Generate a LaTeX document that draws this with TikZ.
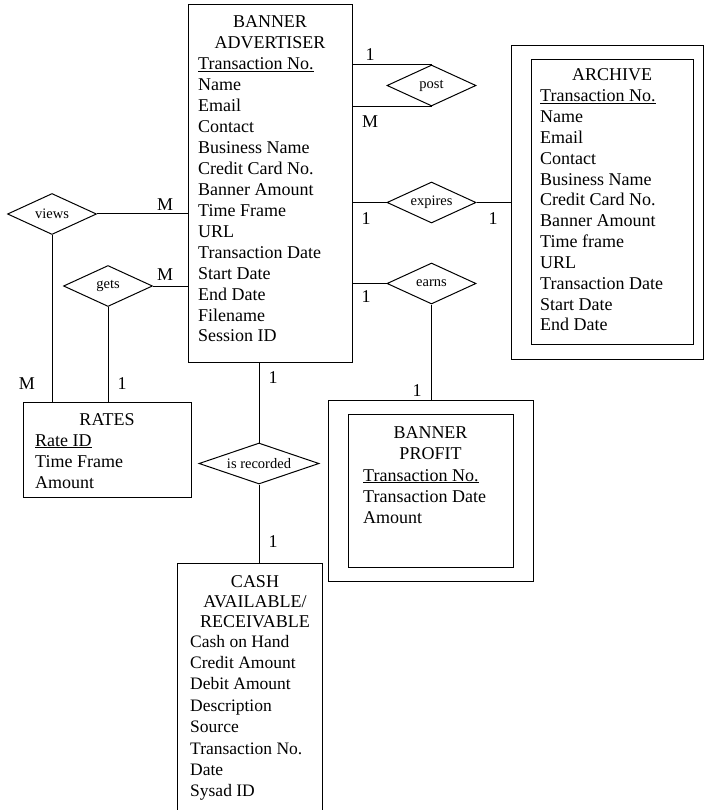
\documentclass[tikz,border=0pt]{standalone}
\usepackage{fontspec}
\setmainfont{Liberation Serif}
\usetikzlibrary{shapes.geometric}
\begin{document}
\begin{tikzpicture}[x=1pt,y=-1pt,
  box/.style={draw, line width=1pt, inner sep=0pt},
  rel/.style={diamond, draw, line width=1pt, inner sep=0pt, aspect=2.2,
    minimum width=89pt, minimum height=41pt, font=\fontsize{14.5}{16}\selectfont},
  attr/.style={anchor=base west, inner sep=0pt, font=\fontsize{18}{21}\selectfont},
  ttl/.style={anchor=base, inner sep=0pt, font=\fontsize{18}{21}\selectfont},
  card/.style={anchor=base, inner sep=0pt, font=\fontsize{18}{21}\selectfont},
  link/.style={line width=1pt}]
\useasboundingbox (0,0) rectangle (705,810);
\clip (0,0) rectangle (705,810);

% ---- BANNER ADVERTISER ----
\node[box, minimum width=164pt, minimum height=357pt] (ba) at (270,183.5) {};
\node[ttl] (ba-t1) at (270,28) {BANNER};
\node[ttl] (ba-t2) at (270,49) {ADVERTISER};
\foreach \a [count=\i] in {\underline{Transaction No.}, Name, Email, Contact,
    Business Name, Credit Card No., Banner Amount, Time Frame, URL,
    Transaction Date, Start Date, End Date, Filename, Session ID}
  \node[attr] (ba-a\i) at (198,{70+20.92*(\i-1)}) {\a};

% ---- ARCHIVE (weak entity, double box) ----
\node[box, minimum width=192pt, minimum height=313pt] (arch) at (607,202.5) {};
\node[box, minimum width=162pt, minimum height=284pt] (arch-in) at (612,202) {};
\node[ttl] (arch-t) at (612,81) {ARCHIVE};
\foreach \a [count=\i] in {\underline{Transaction No.}, Name, Email, Contact,
    Business Name, Credit Card No., Banner Amount, Time frame, URL,
    Transaction Date, Start Date, End Date}
  \node[attr] (arch-a\i) at (540,{102+20.8*(\i-1)}) {\a};

% ---- BANNER PROFIT (weak entity, double box) ----
\node[box, minimum width=205pt, minimum height=181pt] (bp) at (430.5,490.5) {};
\node[box, minimum width=165pt, minimum height=153pt] (bp-in) at (430.5,490.5) {};
\node[ttl] (bp-t1) at (430.5,438) {BANNER};
\node[ttl] (bp-t2) at (430.5,459) {PROFIT};
\foreach \a [count=\i] in {\underline{Transaction No.}, Transaction Date, Amount}
  \node[attr] (bp-a\i) at (363,{481+21*(\i-1)}) {\a};

% ---- RATES ----
\node[box, minimum width=168pt, minimum height=95pt] (rates) at (107,449.5) {};
\node[ttl] (rates-t) at (107,425) {RATES};
\foreach \a [count=\i] in {\underline{Rate ID}, Time Frame, Amount}
  \node[attr] (rates-a\i) at (35,{446+21*(\i-1)}) {\a};

% ---- CASH AVAILABLE / RECEIVABLE (runs past the lower edge) ----
\node[box, minimum width=145pt, minimum height=262pt] (cash) at (249.5,694) {};
\node[ttl] (cash-t1) at (255,587) {CASH};
\node[ttl] (cash-t2) at (255,607) {AVAILABLE/};
\node[ttl] (cash-t3) at (255,627) {RECEIVABLE};
\foreach \a [count=\i] in {Cash on Hand, Credit Amount, Debit Amount,
    Description, Source, Transaction No., Date, Sysad ID}
  \node[attr, font=\fontsize{17.5}{21}\selectfont] (cash-a\i) at (190,{647+21.4*(\i-1)}) {\a};

% ---- relationships ----
\node[rel] (post)  at (431.5,85.5)  {post};
\node[rel] (exp)   at (431.5,202.5) {expires};
\node[rel] (earns) at (431.5,283.5) {earns};
\node[rel] (views) at (52,214)      {views};
\node[rel] (gets)  at (108,286)     {gets};
\node[rel, minimum width=120pt] (rec) at (259,463.5) {is recorded};

% ---- connectors ----
\draw[link] (post.north -| ba.east) -- (post.north);
\draw[link] (post.south -| ba.east) -- (post.south);
\draw[link] (exp.west -| ba.east) -- (exp.west);
\draw[link] (exp.east) -- (exp.east -| arch.west);
\draw[link] (earns.west -| ba.east) -- (earns.west);
\draw[link] (earns.south) -- (earns.south |- bp.north);
\draw[link] (views.east) -- (views.east -| ba.west);
\draw[link] (views.south) -- (views.south |- rates.north);
\draw[link] (gets.east) -- (gets.east -| ba.west);
\draw[link] (gets.south) -- (gets.south |- rates.north);
\draw[link] (rec.north |- ba.south) -- (rec.north);
\draw[link] (rec.south) -- (rec.south |- cash.north);

% ---- cardinalities ----
\node[card] (c-post1)  at (370,61)  {1};
\node[card] (c-postM)  at (370,128) {M};
\node[card] (c-exp1)   at (366,225) {1};
\node[card] (c-exp2)   at (493,225) {1};
\node[card] (c-earns1) at (366,302) {1};
\node[card] (c-earns2) at (417,396) {1};
\node[card] (c-viewsM) at (165,211) {M};
\node[card] (c-getsM)  at (165,280) {M};
\node[card] (c-viewsR) at (27,389)  {M};
\node[card] (c-getsR)  at (122,389) {1};
\node[card] (c-rec1)   at (273,383) {1};
\node[card] (c-rec2)   at (273,547) {1};
\end{tikzpicture}
\end{document}
